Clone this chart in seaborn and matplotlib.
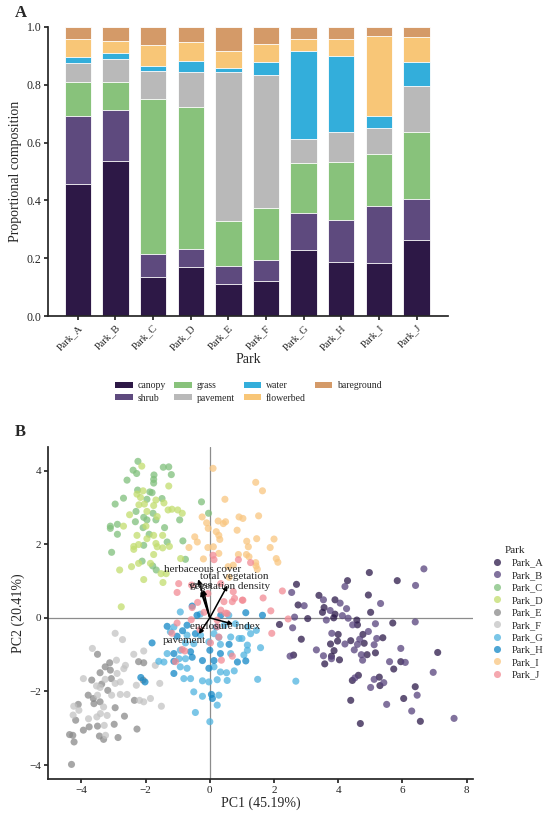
import numpy as np
import pandas as pd
import seaborn as sns
import matplotlib
matplotlib.use('Agg')
import matplotlib.pyplot as plt
from matplotlib.patches import Patch

sns.set_theme(style='ticks')
plt.rcParams['font.family'] = ['Liberation Serif', 'DejaVu Serif']

# ---- panel A: cover composition per park
parks = ['Park_A', 'Park_B', 'Park_C', 'Park_D', 'Park_E',
         'Park_F', 'Park_G', 'Park_H', 'Park_I', 'Park_J']
cover_classes = ['canopy', 'shrub', 'grass', 'pavement', 'water', 'flowerbed', 'bareground']
canopy = [0.458, 0.536, 0.137, 0.170, 0.112, 0.122, 0.228, 0.188, 0.183, 0.265]
shrub = [0.234, 0.177, 0.078, 0.062, 0.061, 0.073, 0.130, 0.146, 0.198, 0.141]
grass = [0.119, 0.098, 0.535, 0.492, 0.155, 0.180, 0.170, 0.200, 0.179, 0.232]
pavement = [0.065, 0.079, 0.098, 0.120, 0.516, 0.459, 0.083, 0.103, 0.092, 0.159]
water = [0.021, 0.021, 0.018, 0.038, 0.015, 0.044, 0.307, 0.263, 0.040, 0.080]
flowerbed = [0.061, 0.040, 0.072, 0.065, 0.059, 0.062, 0.040, 0.057, 0.275, 0.088]
bareground = [0.042, 0.049, 0.062, 0.053, 0.082, 0.060, 0.042, 0.043, 0.033, 0.035]
cover_colors = ['#2d1846', '#5e4a7e', '#88c27b', '#b9b9b9', '#33aedb', '#f8c677', '#d49a68']

# ---- panel B: PCA scores per park (PC1, PC2)
park_a = [(4.97, 1.23), (5.84, 1.01), (4.29, 1.01), (2.70, 0.91), (3.40, 0.61), (3.90, 0.49),
          (4.94, 0.62), (2.75, 0.35), (3.56, 0.28), (3.51, 0.15), (3.90, 0.10), (5.01, 0.15),
          (3.05, -0.02), (3.86, 0.0), (4.58, -0.06), (4.60, -0.19), (5.70, -0.14), (2.17, -0.18),
          (2.85, -0.58), (4.00, -0.45), (4.77, -0.45), (3.98, -0.63), (4.39, -0.62), (4.81, -0.69),
          (5.39, -0.54), (3.76, -0.71), (3.87, -0.89), (5.16, -0.95), (7.10, -0.94), (2.61, -1.01),
          (3.79, -1.04), (4.90, -1.00), (4.04, -1.14), (3.58, -1.25), (5.95, -1.19), (5.73, -1.39),
          (4.63, -1.56), (4.44, -1.70), (5.28, -1.61), (5.30, -1.84), (6.40, -1.87), (6.04, -2.19),
          (4.39, -2.24), (6.56, -2.81), (4.69, -2.87)]
park_b = [(6.67, 1.33), (6.41, 0.88), (4.21, 0.85), (2.55, 0.69), (3.54, 0.49), (4.06, 0.40),
          (5.32, 0.39), (2.94, 0.33), (3.75, 0.20), (4.26, 0.25), (4.13, 0.06), (2.64, 0.02),
          (3.63, -0.06), (4.31, -0.01), (4.45, -0.19), (5.16, -0.16), (6.40, -0.11), (2.58, -0.27),
          (3.80, -0.42), (4.94, -0.37), (4.67, -0.58), (4.21, -0.71), (4.60, -0.72), (5.20, -0.56),
          (5.12, -0.73), (4.50, -0.87), (3.32, -0.87), (5.95, -0.83), (2.50, -1.04), (3.54, -1.03),
          (4.72, -1.00), (3.79, -1.11), (4.76, -1.15), (5.60, -1.19), (6.09, -1.21), (6.96, -1.48),
          (4.52, -1.63), (5.12, -1.67), (5.42, -1.76), (5.01, -1.89), (6.46, -2.10), (5.51, -2.35),
          (6.29, -2.53), (7.61, -2.73)]
park_c = [(-2.24, 4.25), (-2.39, 4.01), (-2.28, 3.92), (-1.45, 4.09), (-1.28, 4.10), (-2.58, 3.74),
          (-1.74, 3.88), (-1.75, 3.76), (-1.75, 3.66), (-1.20, 3.89), (-2.25, 3.47), (-1.87, 3.42),
          (-1.80, 3.40), (-2.69, 3.25), (-2.95, 3.09), (-1.96, 3.22), (-1.49, 3.24), (-0.26, 3.15),
          (-0.04, 2.84), (-2.30, 2.89), (-1.77, 2.84), (-2.06, 2.73), (-2.32, 2.61), (-1.96, 2.66),
          (-1.68, 2.66), (-0.94, 2.66), (-3.10, 2.49), (-2.88, 2.54), (-3.10, 2.43), (-2.08, 2.45),
          (-1.41, 2.45), (-2.88, 2.27), (-1.89, 2.27), (-1.33, 2.06), (-0.84, 2.09), (-2.06, 1.97),
          (-3.06, 1.78), (-0.76, 1.59), (-2.11, 1.54), (-1.78, 1.41), (-1.67, 1.30)]
park_d = [(-2.12, 4.12), (-1.28, 3.58), (-2.08, 3.45), (-2.27, 3.36), (-2.16, 3.27), (-1.68, 3.20),
          (-2.21, 3.07), (-2.04, 3.09), (-1.75, 3.05), (-1.43, 3.12), (-1.18, 2.95), (-1.30, 2.93),
          (-1.00, 2.93), (-0.86, 2.84), (-2.50, 2.80), (-1.96, 2.89), (-1.64, 2.75), (-2.69, 2.49),
          (-1.99, 2.49), (-2.27, 2.24), (-1.75, 2.24), (-1.47, 2.24), (-1.96, 2.15), (-2.22, 1.99),
          (-2.37, 1.94), (-1.68, 2.02), (-1.64, 1.93), (-1.47, 1.90), (-1.26, 1.94), (-2.37, 1.86),
          (-1.75, 1.72), (-0.91, 1.61), (-1.85, 1.48), (-2.22, 1.48), (-2.44, 1.39), (-2.81, 1.30),
          (-1.52, 1.20), (-1.36, 1.20), (-2.06, 1.04), (-1.46, 0.96), (-2.76, 0.30)]
park_e = [(-3.50, -0.99), (-2.22, -1.19), (-2.06, -1.22), (-3.12, -1.22), (-3.26, -1.33), (-3.10, -1.42),
          (-3.42, -1.49), (-3.68, -1.69), (-3.07, -1.65), (-3.37, -1.80), (-2.08, -1.69), (-3.18, -1.97),
          (-3.79, -2.10), (-3.63, -2.19), (-2.35, -2.24), (-3.42, -2.28), (-3.61, -2.33), (-2.95, -2.44),
          (-4.10, -2.35), (-4.18, -2.78), (-2.66, -2.67), (-3.76, -2.96), (-3.50, -2.94), (-2.98, -2.89),
          (-3.94, -3.05), (-4.37, -3.17), (-4.27, -3.19), (-3.44, -3.21), (-2.86, -3.25), (-4.23, -3.37),
          (-3.31, -3.30), (-2.27, -3.02), (-4.31, -3.98)]
park_f = [(-2.95, -0.42), (-2.72, -0.59), (-3.66, -0.83), (-2.37, -0.99), (-2.06, -0.90), (-2.91, -1.15),
          (-2.63, -1.29), (-2.89, -1.51), (-2.68, -1.38), (-3.94, -1.65), (-3.26, -1.67), (-3.53, -1.85),
          (-2.95, -1.78), (-2.79, -1.74), (-2.29, -1.83), (-3.42, -1.89), (-3.50, -2.10), (-3.06, -2.10),
          (-2.79, -2.08), (-2.58, -2.08), (-2.19, -2.24), (-2.06, -2.28), (-1.85, -2.19), (-1.51, -2.40),
          (-1.56, -1.78), (-1.70, -1.29), (-3.31, -2.42), (-4.24, -2.40), (-4.08, -2.51), (-4.26, -2.64),
          (-3.78, -2.74), (-3.52, -2.69), (-3.41, -2.60), (-3.20, -2.65), (-3.29, -2.92), (-3.25, -3.19)]
park_g = [(-0.92, 0.16), (0.59, 0.07), (-1.12, -0.25), (-1.23, -0.38), (-0.71, -0.47), (-0.29, -0.47),
          (0.13, -0.43), (0.28, -0.53), (0.65, -0.52), (0.91, -0.56), (1.27, -0.43), (-0.76, -0.68),
          (-0.50, -0.70), (-0.03, -0.65), (0.33, -0.72), (1.17, -0.74), (1.58, -0.81), (-0.92, -0.88),
          (-1.33, -0.97), (-1.59, -1.18), (-1.43, -1.20), (-0.96, -1.11), (-0.76, -1.11), (0.65, -0.97),
          (1.06, -1.01), (1.17, -0.88), (-0.92, -1.33), (-0.71, -1.37), (0.13, -1.33), (0.33, -1.47),
          (0.52, -1.49), (0.76, -1.44), (-0.81, -1.65), (-0.60, -1.65), (-0.23, -1.71), (-0.03, -1.74),
          (0.23, -1.68), (0.54, -1.70), (1.49, -1.67), (-0.50, -2.01), (-0.23, -2.13), (0.28, -2.10),
          (0.23, -2.37), (-0.45, -2.57), (0.0, -2.82), (2.68, -1.72), (0.80, -0.16), (1.18, -0.25),
          (1.45, -0.34), (1.00, -0.56), (-0.30, 0.10), (0.45, -0.20)]
park_h = [(-0.55, 0.32), (-0.40, 0.07), (0.34, 0.07), (1.12, 0.14), (1.64, 0.07), (-1.33, -0.23),
          (-0.71, -0.20), (-1.02, -0.50), (-0.45, -0.43), (-1.80, -0.68), (0.60, -0.72), (0.0, -0.88),
          (-0.60, -0.92), (-1.12, -0.97), (-1.12, -1.18), (-0.55, -1.07), (-0.23, -1.16), (0.33, -0.97),
          (0.86, -1.20), (1.12, -1.17), (-1.12, -1.51), (-0.03, -1.37), (0.13, -1.16), (-2.15, -1.62),
          (-2.02, -1.74), (0.05, -2.08), (0.08, -2.19), (-0.85, -0.35), (0.20, -0.25)]
park_i = [(0.10, 4.06), (1.43, 3.68), (1.64, 3.45), (0.47, 3.22), (-0.24, 2.74), (-0.10, 2.58),
          (-0.05, 2.43), (0.91, 2.74), (1.03, 2.70), (1.52, 2.77), (0.26, 2.63), (0.42, 2.56),
          (0.49, 2.61), (0.20, 2.34), (0.85, 2.38), (0.31, 2.13), (1.15, 2.08), (1.46, 2.15),
          (2.00, 2.14), (1.20, 1.93), (1.88, 1.91), (-0.06, 1.91), (0.11, 1.93), (0.28, 1.75),
          (0.89, 1.72), (1.14, 1.72), (1.22, 1.66), (2.07, 1.61), (2.12, 1.51), (1.43, 1.50),
          (1.44, 1.41), (1.48, 1.32), (0.73, 1.43), (-0.47, 2.20), (-0.65, 1.91), (-0.39, 2.06),
          (0.28, 2.24), (0.57, 1.39), (-0.20, 1.60), (0.60, 1.10)]
park_j = [(-0.97, 0.93), (-0.57, 0.89), (-1.02, 0.69), (-0.06, 0.66), (0.34, 0.93), (0.73, 0.71),
          (1.01, 0.48), (0.77, 0.53), (0.44, 0.44), (-0.38, 0.42), (-0.55, 0.28), (-0.18, 0.15),
          (0.34, 0.21), (0.54, 0.12), (0.23, -0.06), (-0.58, -0.05), (-1.02, -0.14), (-0.31, -0.32),
          (0.28, -0.52), (-0.86, -0.86), (0.70, -1.04), (0.23, -0.24), (0.10, 1.70), (0.13, 1.58),
          (0.89, 1.58), (1.27, 1.50), (2.26, 0.73), (1.66, 0.54), (1.03, 0.48), (0.70, 0.44),
          (1.90, 0.19), (0.49, 0.13), (2.44, -0.03), (1.93, -0.42), (-1.18, -0.42), (0.02, -0.68),
          (-0.78, -0.90), (-1.07, -1.19), (0.36, -1.15)]
park_colors = ['#2c1a4a', '#57437c', '#7fbf7b', '#c2dd6e', '#8a8a8a', '#c3c3c3',
               '#4fb3df', '#1287c6', '#f9c680', '#f28b95']

# loadings (arrows) and where their labels sit
loading_names = ['herbaceous cover', 'total vegetation', 'vegetation density',
                 'grass', 'enclosure index', 'pavement']
loading_pc1 = [-0.36, 0.55, -0.20, -0.28, 0.72, -0.34]
loading_pc2 = [1.05, 0.88, 0.76, 0.72, -0.17, -0.44]
label_pc1 = [-0.24, 0.76, 0.62, -0.29, 0.48, -0.80]
label_pc2 = [1.30, 1.11, 0.85, 0.87, -0.24, -0.62]

fig = plt.figure(figsize=(5.5, 8.15), dpi=100)
axA = fig.add_axes([0.088, 0.612, 0.727, 0.355])
axB = fig.add_axes([0.088, 0.044, 0.772, 0.408])

# stacked bars: draw cumulative tops first, smaller stacks over them
layers = np.array([canopy, shrub, grass, pavement, water, flowerbed, bareground])
tops = layers.cumsum(axis=0)
for i in range(len(cover_classes) - 1, -1, -1):
    sns.barplot(x=parks, y=tops[i], color=cover_colors[i], width=0.7, saturation=1,
                edgecolor='white', linewidth=0.6, errorbar=None, ax=axA)

axA.set_ylim(0, 1.0)
axA.set_xlim(-0.78, 9.84)
axA.set_xlabel('Park', fontsize=10, labelpad=1)
axA.set_ylabel('Proportional composition', fontsize=10, labelpad=3)
axA.tick_params(axis='y', labelsize=8.5, length=3, pad=2)
axA.tick_params(axis='x', labelsize=7.5, length=3, pad=2)
plt.setp(axA.get_xticklabels(), rotation=45, ha='right', rotation_mode='anchor')
sns.despine(ax=axA)
handles = [Patch(facecolor=c, edgecolor='none', label=n) for n, c in zip(cover_classes, cover_colors)]
axA.legend(handles=handles, ncol=4, loc='center', bbox_to_anchor=(0.5, -0.262),
           frameon=False, fontsize=7, handlelength=1.8, handleheight=0.6,
           handletextpad=0.5, columnspacing=0.9, labelspacing=0.35)

# PCA biplot
score_sets = [park_a, park_b, park_c, park_d, park_e, park_f, park_g, park_h, park_i, park_j]
rows = []
for name, pts in zip(parks, score_sets):
    for x, y in pts:
        rows.append((name, x, y))
scores = pd.DataFrame(rows, columns=['Park', 'PC1', 'PC2'])

axB.axhline(0, color='#8c8c8c', lw=0.9, zorder=0)
axB.axvline(0, color='#8c8c8c', lw=0.9, zorder=0)
sns.scatterplot(data=scores, x='PC1', y='PC2', hue='Park', hue_order=parks,
                palette=dict(zip(parks, park_colors)), s=26, alpha=0.75,
                edgecolor='none', ax=axB)

for i, name in enumerate(loading_names):
    axB.annotate('', xy=(loading_pc1[i], loading_pc2[i]), xytext=(0, 0),
                 arrowprops=dict(arrowstyle='-|>', color='black', lw=1.1,
                                 mutation_scale=6, shrinkA=0, shrinkB=0))
    axB.text(label_pc1[i], label_pc2[i], name, fontsize=8, ha='center', va='center')

axB.set_xlim(-5.03, 8.2)
axB.set_ylim(-4.38, 4.65)
axB.set_xticks([-4, -2, 0, 2, 4, 6, 8])
axB.set_yticks([-4, -2, 0, 2, 4])
axB.set_xlabel('PC1 (45.19%)', fontsize=10, labelpad=1)
axB.set_ylabel('PC2 (20.41%)', fontsize=10, labelpad=3)
axB.tick_params(labelsize=8, length=3, pad=2)
sns.despine(ax=axB)
sns.move_legend(axB, 'center left', bbox_to_anchor=(1.015, 0.5), frameon=False,
                title='Park', fontsize=7.5, title_fontsize=8, labelspacing=0.3,
                handletextpad=0.4, borderaxespad=0.3)

fig.text(0.027, 0.984, 'A', fontsize=12, fontweight='bold', va='center')
fig.text(0.027, 0.470, 'B', fontsize=12, fontweight='bold', va='center')

fig.savefig('out.png', dpi=100)
